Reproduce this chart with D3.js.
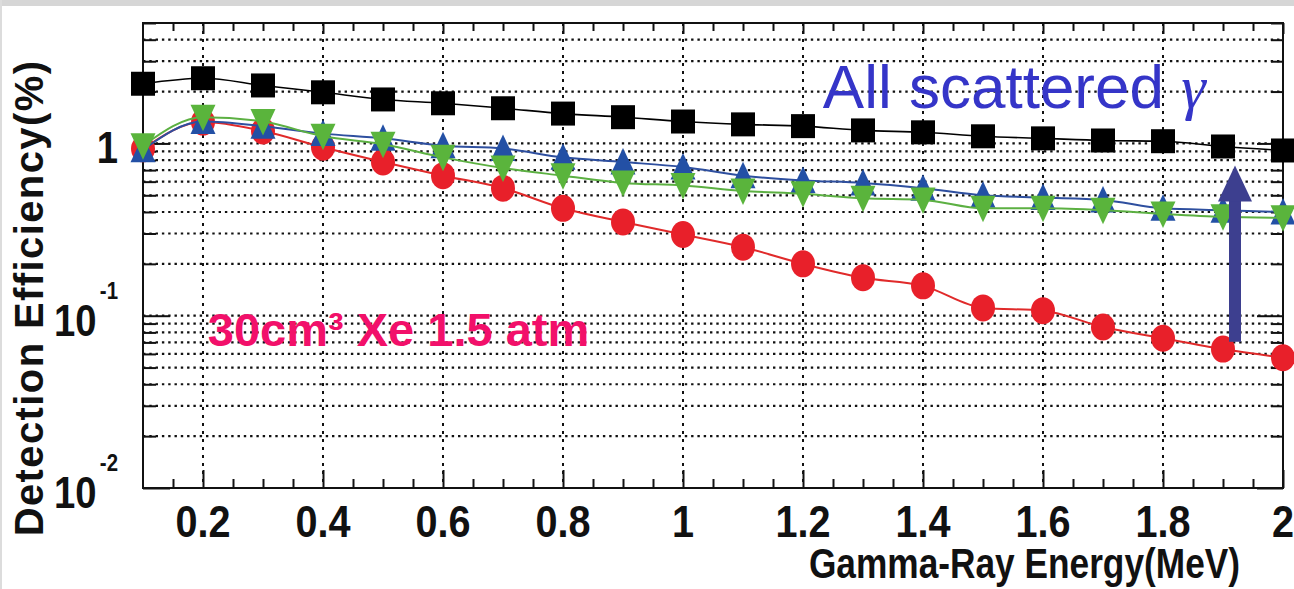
<!DOCTYPE html>
<html lang="en">
<head>
<meta charset="UTF-8">
<title>Detection Efficiency vs Gamma-Ray Energy</title>
<script src="https://d3js.org/d3.v7.min.js"></script>
<style>
  body { margin: 0; background: #fff; }
  svg { display: block; }
  .tick-label { font-family: "Liberation Sans", Arial, sans-serif; font-weight: bold; fill: #111; }
</style>
</head>
<body>
<svg id="chart"></svg>
<script>
// data
const energy = [0.1, 0.2, 0.3, 0.4, 0.5, 0.6, 0.7, 0.8, 0.9, 1.0, 1.1, 1.2, 1.3, 1.4, 1.5, 1.6, 1.7, 1.8, 1.9, 2.0];
const blackSquares = [2.22, 2.39, 2.17, 1.98, 1.80, 1.71, 1.60, 1.49, 1.42, 1.34, 1.29, 1.26, 1.19, 1.16, 1.10, 1.07, 1.04, 1.03, 0.96, 0.91];
const redCircles   = [0.93, 1.33, 1.18, 0.95, 0.78, 0.65, 0.55, 0.42, 0.35, 0.296, 0.25, 0.20, 0.166, 0.149, 0.111, 0.107, 0.086, 0.074, 0.064, 0.057];
const blueUp       = [0.92, 1.34, 1.26, 1.14, 1.07, 0.97, 0.935, 0.83, 0.78, 0.73, 0.65, 0.61, 0.59, 0.55, 0.50, 0.485, 0.47, 0.42, 0.41, 0.40];
const greenDown    = [0.97, 1.42, 1.34, 1.10, 0.99, 0.83, 0.72, 0.65, 0.59, 0.57, 0.53, 0.51, 0.48, 0.47, 0.42, 0.42, 0.41, 0.39, 0.375, 0.37];

const xMajor = [0.2, 0.4, 0.6, 0.8, 1.0, 1.2, 1.4, 1.6, 1.8, 2.0];
const xLabels = ["0.2", "0.4", "0.6", "0.8", "1", "1.2", "1.4", "1.6", "1.8", "2"];
const yMajor = [0.01, 0.1, 1];
const yLabels = [["10", "-2"], ["10", "-1"], ["1", ""]];

// annotation anchors (data units)
const arrowAt = { energy: 1.92, from: 0.0706, to: 0.745 };
const allScatteredLabel = { energy: 1.233, value: 1.6, text: "All scattered " };
const xeLabel = { energy: 0.208, value: 0.0665, text: "30cm³ Xe 1.5 atm" };

const W = 1294, H = 589;
const margin = { top: 23, right: 11, bottom: 101, left: 143 };

const svg = d3.select("#chart").attr("width", W).attr("height", H);

// scanned-page edges
svg.append("rect").attr("x", 0).attr("y", 0).attr("width", W).attr("height", 6).attr("fill", "#d6d6d6");
svg.append("rect").attr("x", 0).attr("y", 0).attr("width", 2).attr("height", H).attr("fill", "#dcdcdc");

const x = d3.scaleLinear().domain([0.1, 2]).range([margin.left, W - margin.right]);
const y = d3.scaleLog().domain([0.01, 5]).range([H - margin.bottom, margin.top]);

const x0 = x.range()[0], x1 = x.range()[1];
const yb = y.range()[0], yt = y.range()[1];

// minor values
const xMinor = d3.range(0.15, 2.0, 0.05).map(v => +v.toFixed(2)).filter(v => !xMajor.some(m => Math.abs(m - v) < 1e-6));
const yAll = [];
[0.01, 0.1, 1].forEach(d => { for (let k = 1; k <= 9; k++) { const v = +(k * d).toPrecision(3); if (v <= 5) yAll.push(v); } });
const yMinor = yAll.filter(v => !yMajor.includes(v));

// dotted grid
const grid = svg.append("g").attr("stroke", "#111").attr("fill", "none");
grid.selectAll(".hg").data(yAll.filter(v => v > 0.01 && v < 5)).join("line")
  .attr("x1", x0).attr("x2", x1)
  .attr("y1", d => y(d)).attr("y2", d => y(d))
  .attr("stroke-width", 2.2).attr("stroke-dasharray", "2.4 3.9");
grid.selectAll(".vg").data(xMajor.filter(v => v < 2)).join("line")
  .attr("x1", d => x(d)).attr("x2", d => x(d))
  .attr("y1", yt).attr("y2", yb)
  .attr("stroke-width", 2).attr("stroke-dasharray", "3 5");

// ticks via d3 axes (inward)
function tickAxis(axis, tx, ty) {
  const g = svg.append("g").attr("transform", `translate(${tx},${ty})`).call(axis);
  g.select(".domain").remove();
  g.selectAll(".tick line").attr("stroke", "#111").attr("stroke-width", 2);
  g.selectAll(".tick text").remove();
  return g;
}
tickAxis(d3.axisBottom(x).tickValues(xMajor).tickSize(-18), 0, yb);
tickAxis(d3.axisBottom(x).tickValues(xMinor).tickSize(-9), 0, yb);
tickAxis(d3.axisTop(x).tickValues(xMajor).tickSize(-11), 0, yt);
tickAxis(d3.axisTop(x).tickValues(xMinor).tickSize(-8), 0, yt);
tickAxis(d3.axisLeft(y).tickValues(yMajor).tickSize(-27), x0, 0);
tickAxis(d3.axisLeft(y).tickValues(yMinor).tickSize(-13), x0, 0);
tickAxis(d3.axisRight(y).tickValues(yMajor).tickSize(-26), x1, 0);
tickAxis(d3.axisRight(y).tickValues(yMinor).tickSize(-12), x1, 0);

// x tick labels (condensed like the original)
svg.append("g").selectAll("text").data(xMajor).join("text")
  .attr("class", "tick-label")
  .attr("transform", d => `translate(${x(d)},${yb + 49}) scale(0.88,1)`)
  .attr("text-anchor", "middle")
  .attr("font-size", 45)
  .text((d, i) => xLabels[i]);

// y tick labels with superscripts
const yl = svg.append("g").selectAll("text").data(yMajor).join("text")
  .attr("class", "tick-label")
  .attr("transform", d => `translate(118,${y(d) + 20}) scale(0.85,1)`)
  .attr("text-anchor", "end")
  .attr("font-size", 45);
yl.append("tspan").text((d, i) => yLabels[i][0]);
yl.append("tspan").attr("font-size", 24).attr("dx", 4).attr("dy", -37)
  .text((d, i) => yLabels[i][1]);

// frame
svg.append("rect").attr("x", x0).attr("y", yt).attr("width", x1 - x0).attr("height", yb - yt)
  .attr("fill", "none").attr("stroke", "#111").attr("stroke-width", 2);

// series
const line = d3.line().x((d, i) => x(energy[i])).y(d => y(d)).curve(d3.curveMonotoneX);

function drawSeries(values, color, lineColor, width, marker) {
  const g = svg.append("g");
  g.append("path").datum(values).attr("d", line)
    .attr("fill", "none").attr("stroke", lineColor).attr("stroke-width", width);
  const pts = g.selectAll(".m").data(values).join(marker === "circle" ? "ellipse" : "path")
    .attr("fill", color);
  if (marker === "circle") {
    pts.attr("cx", (d, i) => x(energy[i])).attr("cy", d => y(d)).attr("rx", 12).attr("ry", 13.5);
  } else {
    const shape = {
      square: "M-12,-12H12V12H-12Z",
      up: "M0,-14L12.5,12.5L-12.5,12.5Z",
      down: "M0,14L12.5,-12.5L-12.5,-12.5Z"
    }[marker];
    pts.attr("d", shape).attr("transform", (d, i) => `translate(${x(energy[i])},${y(d)})`);
  }
}

drawSeries(blackSquares, "#000", "#000", 1.6, "square");
drawSeries(redCircles, "#e8202a", "#e02a2a", 2, "circle");
drawSeries(blueUp, "#2350a5", "#2e4f9f", 2, "up");
drawSeries(greenDown, "#5ab43c", "#5cb042", 2, "down");

// arrow
const ax = x(arrowAt.energy);
const aTop = y(arrowAt.to), aBot = y(arrowAt.from);
svg.append("rect").attr("x", ax - 6).attr("y", aTop + 34).attr("width", 12).attr("height", aBot - aTop - 34)
  .attr("fill", "#3d3f8f");
svg.append("path")
  .attr("d", `M${ax},${aTop}L${ax + 17},${aTop + 36}L${ax - 17},${aTop + 36}Z`)
  .attr("fill", "#3d3f8f");

// annotations
const t1 = svg.append("text")
  .attr("x", x(allScatteredLabel.energy)).attr("y", y(allScatteredLabel.value))
  .attr("font-family", "Liberation Sans, Arial, sans-serif")
  .attr("font-size", 62).attr("fill", "#3535c8");
t1.append("tspan").text(allScatteredLabel.text);
t1.append("tspan").attr("font-family", "Liberation Serif, Times New Roman, serif")
  .attr("font-style", "italic").text("γ");

svg.append("text")
  .attr("x", x(xeLabel.energy)).attr("y", y(xeLabel.value))
  .attr("font-family", "Liberation Sans, Arial, sans-serif")
  .attr("font-weight", "bold").attr("font-size", 47).attr("fill", "#f2106a")
  .text(xeLabel.text);

// axis titles
svg.append("text")
  .attr("class", "tick-label")
  .attr("transform", "translate(1240,578) scale(0.84,1)")
  .attr("text-anchor", "end")
  .attr("font-size", 42)
  .text("Gamma-Ray Energy(MeV)");

svg.append("text")
  .attr("transform", "translate(43,298) rotate(-90)")
  .attr("text-anchor", "middle")
  .attr("font-family", "Liberation Sans, Arial, sans-serif")
  .attr("font-weight", "bold").attr("font-size", 40)
  .attr("letter-spacing", 1.4).attr("fill", "#111")
  .text("Detection Efficiency(%)");
</script>
</body>
</html>
